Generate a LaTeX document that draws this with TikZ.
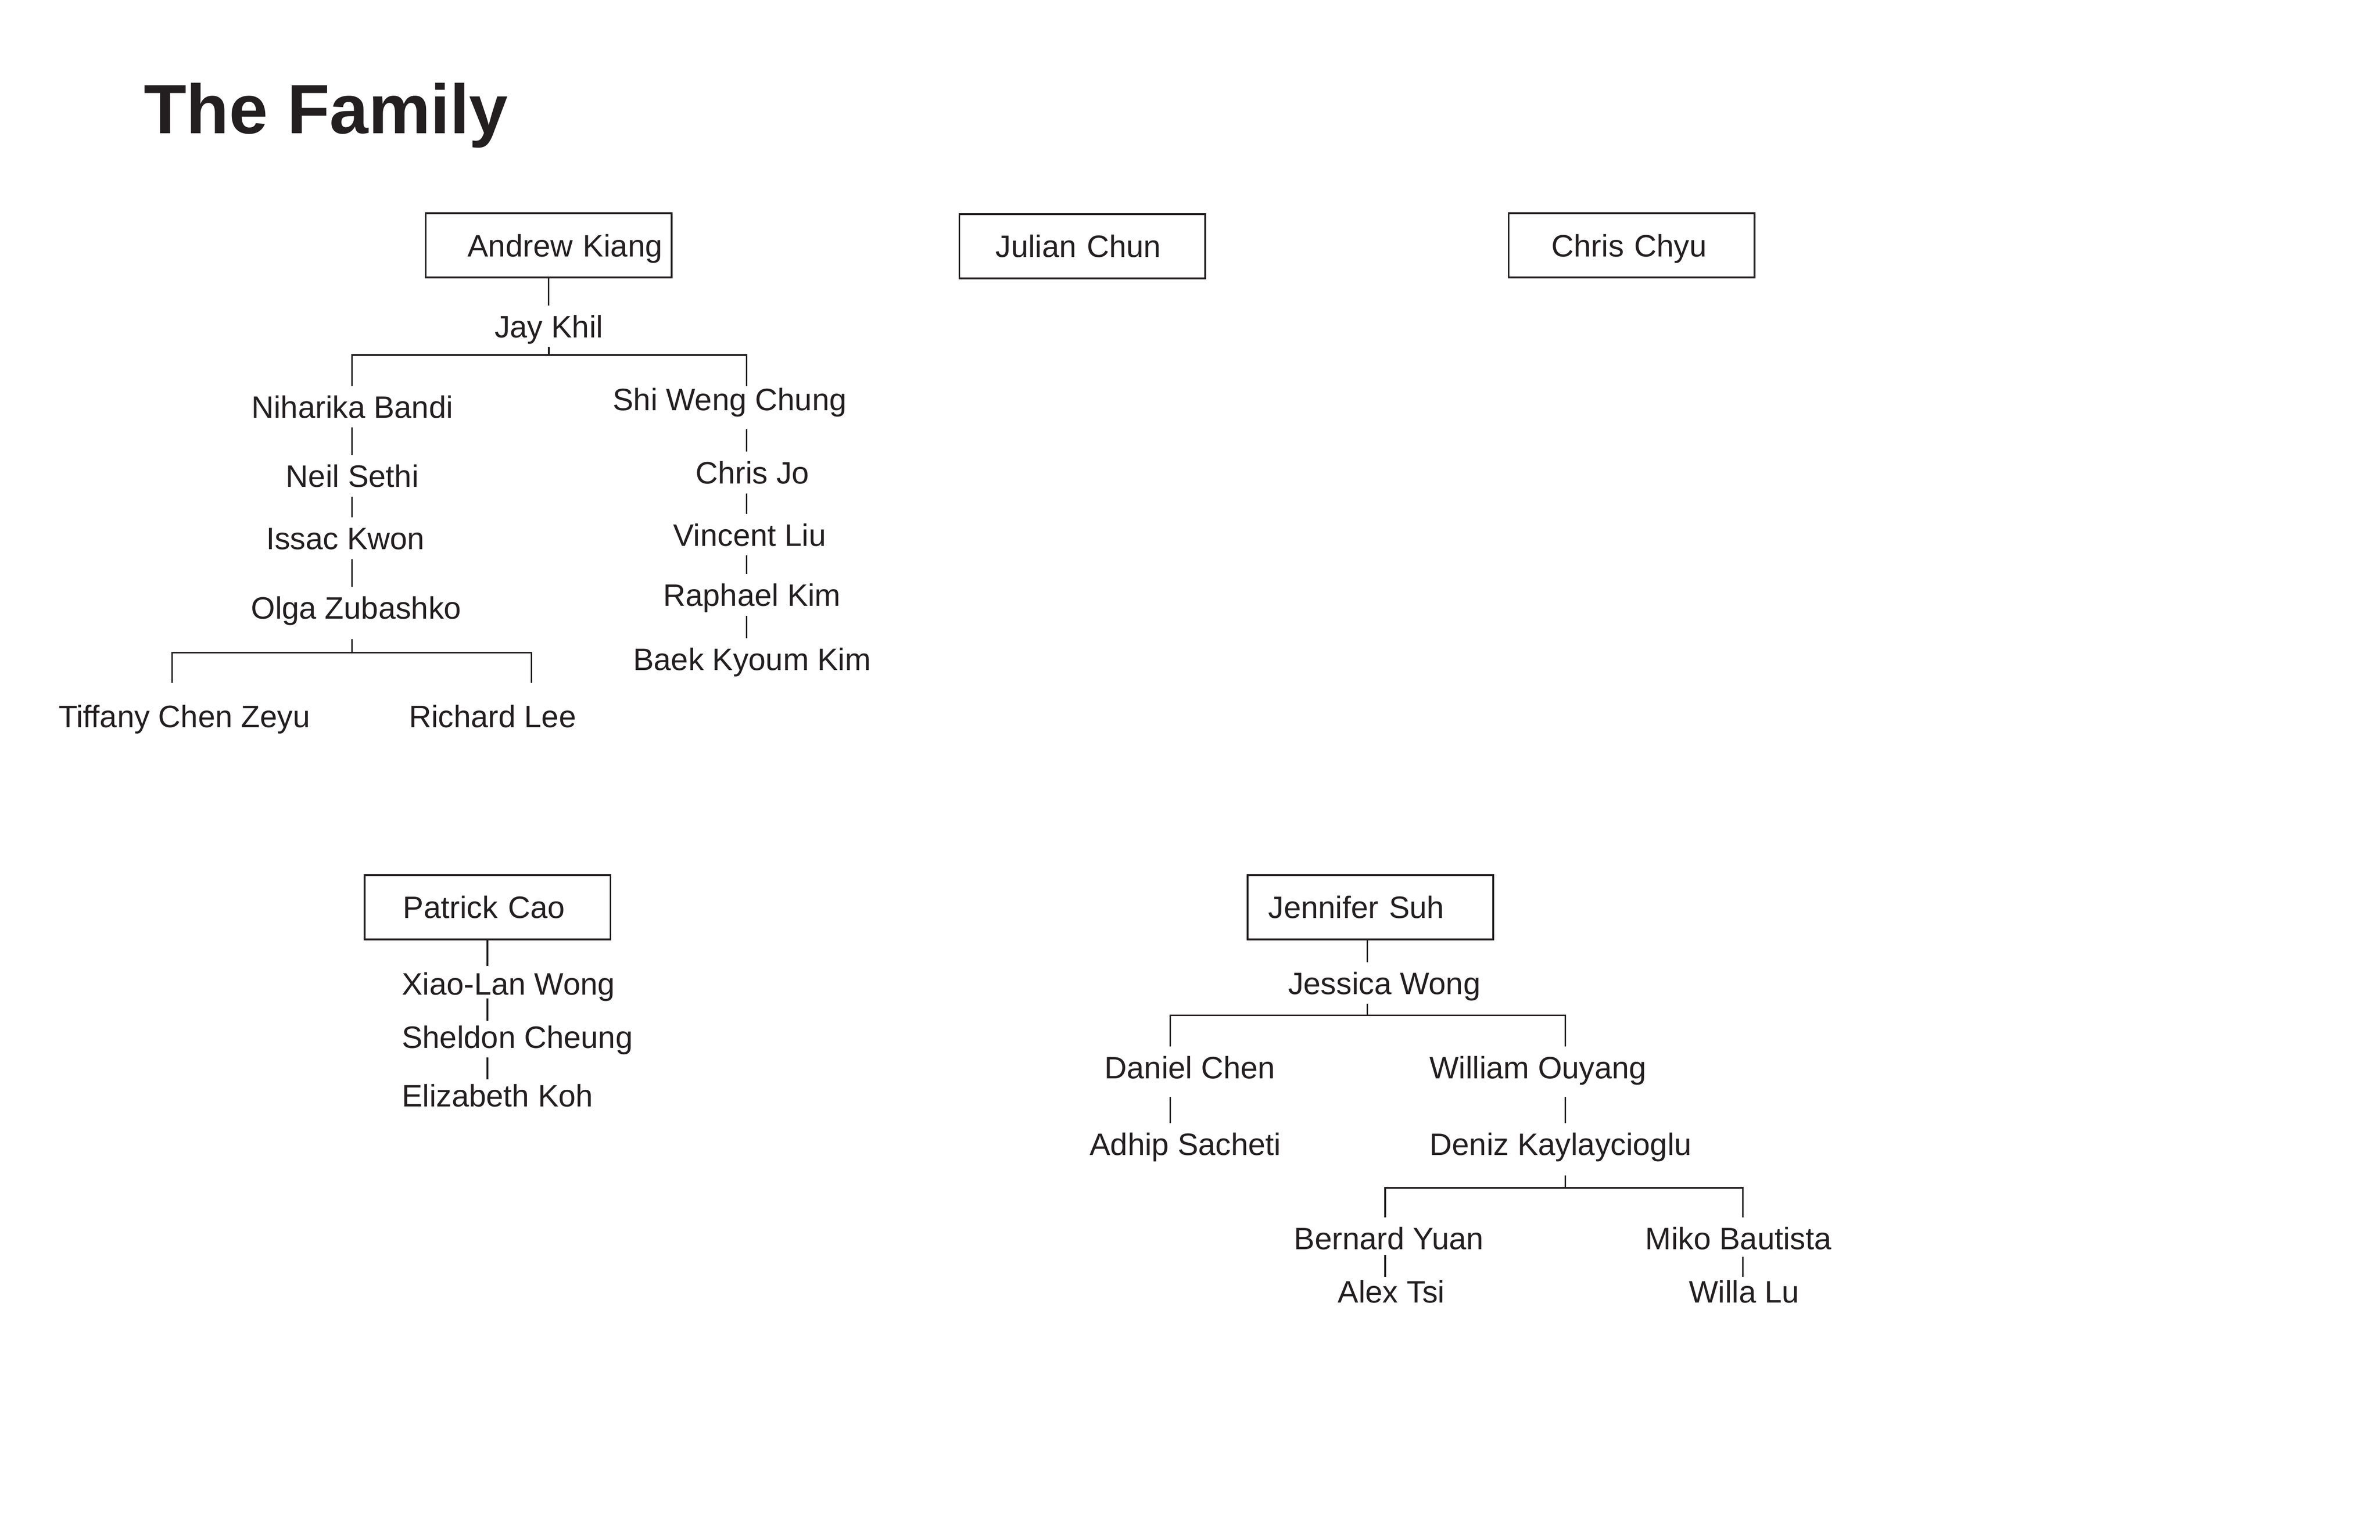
\documentclass[tikz,border=0pt]{standalone}
\usepackage{fontspec}
\setmainfont{Liberation Sans}

\definecolor{ink}{RGB}{35,31,32}

\tikzset{
  person/.style={font=\fontsize{16}{19}\selectfont, text=ink, anchor=base,
    inner xsep=0pt, inner ysep=2.5pt, text height=13.9pt, text depth=2.2pt},
  headbox/.style={draw=ink, line width=0.9pt, font=\fontsize{16}{19}\selectfont,
    text=ink, text width=4.3cm, align=left, inner xsep=0.08cm, inner ysep=0pt,
    minimum height=1.165cm, text height=11.5pt, text depth=0pt,
    execute at begin node={\hspace*{#1}}},
  headbox/.default=0.62cm,
  link/.style={draw=ink, line width=0.8pt}
}

\begin{document}
\begin{tikzpicture}[x=0.02753cm, y=-0.02753cm]
    \useasboundingbox[fill=white] (0,0) rectangle (1568.46,1014.9);

    \node[font=\fontsize{36}{43}\selectfont\bfseries, text=ink, anchor=base west,
      inner sep=0pt] (title) at (94.5,87.9) {The Family};

    \node[headbox=0.68cm] (AK) at (361.6,161.8) {Andrew Kiang};
    \node[headbox=0.575cm] (JC) at (713.3,162.3) {Julian Chun};
    \node[headbox=0.7cm] (CC) at (1075.2,161.8) {Chris Chyu};
    \node[headbox] (PC) at (321.25,598) {Patrick Cao};
    \node[headbox=0.3cm] (JS) at (903.1,598) {Jennifer Suh};

    \node[person] (JK) at (361.7,222.5) {Jay Khil};
    \node[person] (NB) at (232.2,275.5) {Niharika Bandi};
    \node[person] (NS) at (232.2,321.1) {Neil Sethi};
    \node[person] (IK) at (227.6,362.3) {Issac Kwon};
    \node[person] (OZ) at (234.7,407.9) {Olga Zubashko};
    \node[person] (TCZ) at (121.5,479.4) {Tiffany Chen Zeyu};
    \node[person] (RL) at (324.6,479.4) {Richard Lee};
    \node[person] (SWC) at (480.9,270.5) {Shi Weng Chung};
    \node[person] (CJ) at (495.9,319.0) {Chris Jo};
    \node[person] (VL) at (494.1,359.9) {Vincent Liu};
    \node[person] (RK) at (495.6,399.6) {Raphael Kim};
    \node[person] (BKK) at (495.6,441.7) {Baek Kyoum Kim};

    \node[person, anchor=base west] (XLW) at (264.6,655.7) {Xiao-Lan Wong};
    \node[person, anchor=base west] (SC) at (264.6,690.8) {Sheldon Cheung};
    \node[person, anchor=base west] (EK) at (264.6,729.6) {Elizabeth Koh};

    \node[person] (JW) at (912.3,655.4) {Jessica Wong};
    \node[person] (DC) at (784.2,710.9) {Daniel Chen};
    \node[person] (WO) at (1013.6,710.9) {William Ouyang};
    \node[person] (AS) at (781.2,761.6) {Adhip Sacheti};
    \node[person] (DK) at (1028.5,761.6) {Deniz Kaylaycioglu};
    \node[person] (BY) at (915.3,823.6) {Bernard Yuan};
    \node[person] (MB) at (1145.7,823.6) {Miko Bautista};
    \node[person] (AT) at (916.9,858.7) {Alex Tsi};
    \node[person] (WL) at (1149.4,858.7) {Willa Lu};

    \coordinate (colA) at (232,0);
    \coordinate (colB) at (492,0);
    \coordinate (colTL) at (113.5,0);
    \coordinate (colRL) at (350.2,0);
    \coordinate (barA) at (362,234);
    \coordinate (barO) at (232,430.2);

    \draw[link] (AK.south) -- (AK.south |- JK.north);
    \draw[link] (JK.south) -- (JK.south |- barA);
    \draw[link] (NB.north -| colA) |- (barA) -| (NB.north -| colB);
    \draw[link] (NB.south -| colA) -- (NS.north -| colA);
    \draw[link] (NS.south -| colA) -- (IK.north -| colA);
    \draw[link] (IK.south -| colA) -- (OZ.north -| colA);
    \draw[link, shorten <=2mm] (OZ.south -| colA) -- (barO);
    \draw[link, shorten <=2.2mm, shorten >=2.2mm] (TCZ.north -| colTL) |- (barO) -| (RL.north -| colRL);
    \draw[link, shorten <=1.7mm] (SWC.south -| colB) -- (CJ.north -| colB);
    \draw[link] (CJ.south -| colB) -- (VL.north -| colB);
    \draw[link] (VL.south -| colB) -- (RK.north -| colB);
    \draw[link] (RK.south -| colB) -- (BKK.north -| colB);

    \draw[link, shorten >=-0.6mm] (PC.south) -- (PC.south |- XLW.north);
    \draw[link, shorten <=-1.05mm, shorten >=-0.9mm] (PC.south |- XLW.south) -- (PC.south |- SC.north);
    \draw[link, shorten >=-0.8mm] (PC.south |- SC.south) -- (PC.south |- EK.north);

    \coordinate (colJ) at (901.1,0);
    \coordinate (colDC) at (771.3,0);
    \coordinate (colWO) at (1031.5,0);
    \coordinate (colBY) at (912.8,0);
    \coordinate (colMB) at (1148.5,0);
    \coordinate (barJ) at (901.1,669.3);
    \coordinate (barD) at (1031.5,783);

    \draw[link] (JS.south -| colJ) -- (JW.north -| colJ);
    \draw[link] (JW.south -| colJ) -- (barJ);
    \draw[link] (DC.north -| colDC) |- (barJ) -| (WO.north -| colWO);
    \draw[link, shorten <=1.6mm] (DC.south -| colDC) -- (AS.north -| colDC);
    \draw[link, shorten <=1.6mm] (WO.south -| colWO) -- (DK.north -| colWO);
    \draw[link, shorten <=1.9mm] (DK.south -| colWO) -- (barD);
    \draw[link] (BY.north -| colBY) |- (barD) -| (MB.north -| colMB);
    \draw[link, shorten <=-0.7mm, shorten >=-1.15mm] (BY.south -| colBY) -- (AT.north -| colBY);
    \draw[link, shorten <=-0.4mm, shorten >=-1.15mm] (MB.south -| colMB) -- (WL.north -| colMB);
\end{tikzpicture}
\end{document}
